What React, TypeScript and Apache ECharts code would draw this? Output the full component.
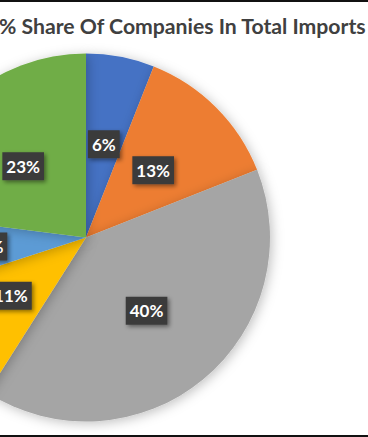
import React, { useEffect, useRef } from "react";
import * as echarts from "echarts";

const titleText = "% Share Of Companies In Total Imports";
const companies = ["Company A", "Company B", "Company C", "Company D", "Company E", "Company F"];
const shares = [6, 13, 40, 11, 7, 23];
const colors = ["#4472C4", "#ED7D31", "#A5A5A5", "#FFC000", "#5B9BD5", "#70AD47"];

export default function App() {
  const ref = useRef<HTMLDivElement>(null);
  useEffect(() => {
    document.body.style.margin = "0";
    const chart = echarts.init(ref.current!, null, { renderer: "svg" });
    chart.setOption({
      animation: false,
      backgroundColor: "#ffffff",
      title: {
        text: titleText,
        left: -6,
        top: 10,
        textStyle: {
          fontFamily: "Lato",
          fontWeight: "bold",
          fontSize: 21.2,
          color: "#404040",
        },
      },
      graphic: [
        { type: "rect", shape: { x: 0, y: 0, width: 368, height: 2 }, style: { fill: "#111" } },
        { type: "rect", shape: { x: 0, y: 435, width: 368, height: 2 }, style: { fill: "#111" } },
      ],
      series: [
        {
          type: "pie",
          center: [86, 237.5],
          radius: [0, 184],
          startAngle: 90,
          clockwise: true,
          silent: true,
          data: companies.map((n, i) => ({
            name: n,
            value: shares[i],
            itemStyle: { color: colors[i] },
          })),
          itemStyle: {
            borderWidth: 0,
            shadowBlur: 12,
            shadowColor: "rgba(0,0,0,0.25)",
            shadowOffsetX: 2,
            shadowOffsetY: 2,
          },
          label: {
            show: true,
            position: "inside",
            formatter: "{c}%",
            color: "#ffffff",
            fontFamily: "Lato",
            fontWeight: "bold",
            fontSize: 17,
            backgroundColor: "#3a3a3a",
            padding: [6, 4, 5, 4],
            shadowBlur: 4,
            shadowColor: "rgba(0,0,0,0.45)",
            shadowOffsetX: 2,
            shadowOffsetY: 2,
          },
          labelLine: { show: false },
        },
      ],
    });
    return () => chart.dispose();
  }, []);
  return <div ref={ref} style={{ position: "fixed", left: 0, top: 0, width: 368, height: 437 }} />;
}
